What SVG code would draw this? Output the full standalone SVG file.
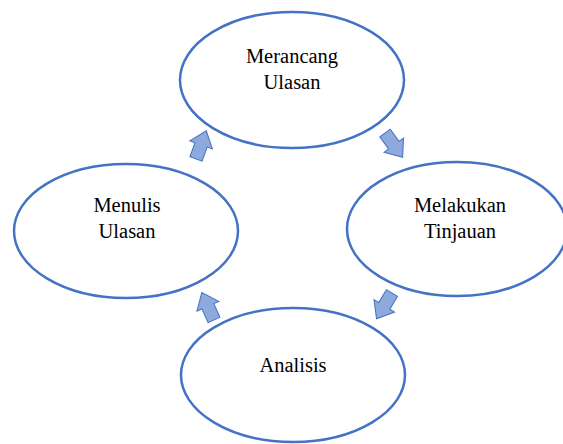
<svg xmlns="http://www.w3.org/2000/svg" width="563" height="444" viewBox="0 0 563 444">
<defs>
<style>
.node ellipse{fill:#fff;stroke:#4472C4;stroke-width:2.5}
.lbl{font-size:20.5px;fill:#000;text-anchor:middle}
.arr{fill:#8EA9DB;stroke:#4472C4;stroke-width:1}
</style>
<path id="ba" d="M0,-6.5 L15,-6.5 L15,-12 L30,0 L15,12 L15,6.5 L0,6.5 Z"/>
</defs>
<rect width="563" height="444" fill="#fff"/>
<g id="n-merancang" class="node">
<ellipse cx="292" cy="80" rx="112" ry="68"/>
<text class="lbl" font-family="Liberation Serif, serif" x="292" y="63">Merancang</text>
<text class="lbl" font-family="Liberation Serif, serif" x="292" y="89">Ulasan</text>
</g>
<g id="n-melakukan" class="node">
<ellipse cx="457" cy="229" rx="110" ry="67"/>
<text class="lbl" font-family="Liberation Serif, serif" x="460" y="212">Melakukan</text>
<text class="lbl" font-family="Liberation Serif, serif" x="460" y="238">Tinjauan</text>
</g>
<g id="n-analisis" class="node">
<ellipse cx="293" cy="375" rx="112" ry="67"/>
<text class="lbl" font-family="Liberation Serif, serif" x="293" y="372">Analisis</text>
</g>
<g id="n-menulis" class="node">
<ellipse cx="126" cy="231" rx="112" ry="67"/>
<text class="lbl" font-family="Liberation Serif, serif" x="127" y="212">Menulis</text>
<text class="lbl" font-family="Liberation Serif, serif" x="127" y="238">Ulasan</text>
</g>
<g id="connectors">
<use href="#ba" class="arr" transform="translate(385,133) rotate(54)"/>
<use href="#ba" class="arr" transform="translate(392,293) rotate(121)"/>
<use href="#ba" class="arr" transform="translate(214,320) rotate(-114)"/>
<use href="#ba" class="arr" transform="translate(196,159) rotate(-70)"/>
</g>
</svg>
